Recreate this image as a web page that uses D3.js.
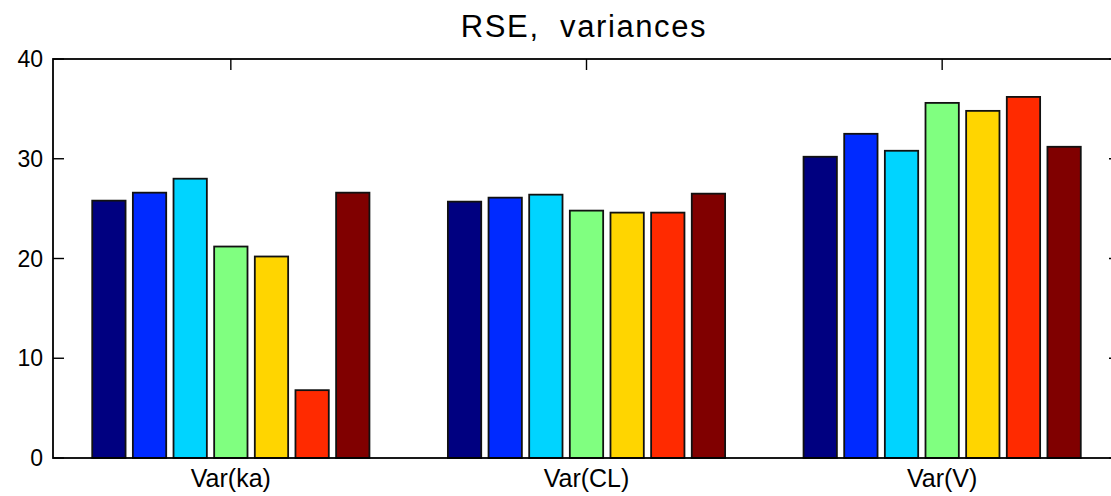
<!DOCTYPE html>
<html>
<head>
<meta charset="utf-8">
<script src="https://cdn.jsdelivr.net/npm/d3@7"></script>
<style>
  html, body { margin: 0; padding: 0; background: #fff; }
  svg { display: block; }
  text { font-family: "Liberation Sans", Arial, sans-serif; fill: #000; }
</style>
</head>
<body>
<svg id="chart" width="1111" height="496"></svg>
<script>
const categories = ["Var(ka)", "Var(CL)", "Var(V)"];
const series1 = [25.8, 25.7, 30.2];
const series2 = [26.6, 26.1, 32.5];
const series3 = [28.0, 26.4, 30.8];
const series4 = [21.2, 24.8, 35.6];
const series5 = [20.2, 24.6, 34.8];
const series6 = [6.8, 24.6, 36.2];
const series7 = [26.6, 26.5, 31.2];
const seriesList = [series1, series2, series3, series4, series5, series6, series7];
const yTicks = [0, 10, 20, 30, 40];
const title = "RSE,  variances";

// jet colormap sampled evenly across the series
function jet(t) {
  const c = v => Math.max(0, Math.min(1, v));
  const r = c(1.5 - Math.abs(4 * t - 3));
  const g = c(1.5 - Math.abs(4 * t - 2));
  const b = c(1.5 - Math.abs(4 * t - 1));
  return d3.rgb(r * 255, g * 255, b * 255).formatHex();
}
const nS = seriesList.length;
const colors = seriesList.map((_, i) => jet(i / (nS - 1)));

const svg = d3.select("#chart");
const mLeft = 53, mRight = 1120, mTop = 59, mBottom = 458;

const x = d3.scaleLinear().domain([0.5, categories.length + 0.5]).range([mLeft, mRight]);
const y = d3.scaleLinear().domain([0, 40]).range([mBottom, mTop]);

const groupWidth = 0.8;
const pitch = groupWidth / nS;
const barW = pitch * 0.82;

const g = svg.append("g");

// Ticks (inward), drawn under bars
const tickLen = 11;
g.selectAll(".ytl").data(yTicks).enter().append("line")
  .attr("x1", mLeft).attr("x2", mLeft + tickLen)
  .attr("y1", d => y(d)).attr("y2", d => y(d))
  .attr("stroke", "#000").attr("stroke-width", 1.4);
g.selectAll(".ytr").data(yTicks).enter().append("line")
  .attr("x1", mRight).attr("x2", mRight - tickLen)
  .attr("y1", d => y(d)).attr("y2", d => y(d))
  .attr("stroke", "#000").attr("stroke-width", 1.4);
g.selectAll(".xtt").data(categories).enter().append("line")
  .attr("x1", (d, i) => x(i + 1)).attr("x2", (d, i) => x(i + 1))
  .attr("y1", mTop).attr("y2", mTop + tickLen)
  .attr("stroke", "#000").attr("stroke-width", 1.4);
g.selectAll(".xtb").data(categories).enter().append("line")
  .attr("x1", (d, i) => x(i + 1)).attr("x2", (d, i) => x(i + 1))
  .attr("y1", mBottom).attr("y2", mBottom - tickLen)
  .attr("stroke", "#000").attr("stroke-width", 1.4);

// Bars
seriesList.forEach((vals, s) => {
  const off = (s - (nS - 1) / 2) * pitch;
  g.selectAll(".bar" + s).data(vals).enter().append("rect")
    .attr("x", (d, i) => x(i + 1 + off - barW / 2))
    .attr("width", x(barW) - x(0))
    .attr("y", d => y(d))
    .attr("height", d => y(0) - y(d))
    .attr("fill", colors[s])
    .attr("stroke", "#111")
    .attr("stroke-width", 1.8);
});

// Axes box
g.append("rect")
  .attr("x", mLeft).attr("y", mTop)
  .attr("width", mRight - mLeft).attr("height", mBottom - mTop)
  .attr("fill", "none").attr("stroke", "#000").attr("stroke-width", 1.8);

// Y tick labels
g.selectAll(".ylab").data(yTicks).enter().append("text")
  .attr("x", mLeft - 10).attr("y", d => y(d) + 8)
  .attr("text-anchor", "end")
  .style("font-size", "23px")
  .text(d => d);

// X labels
g.selectAll(".xlab").data(categories).enter().append("text")
  .attr("x", (d, i) => x(i + 1)).attr("y", mBottom + 29)
  .attr("text-anchor", "middle")
  .style("font-size", "25px")
  .text(d => d);

// Title
svg.append("text")
  .attr("x", 584).attr("y", 37)
  .attr("text-anchor", "middle")
  .style("font-size", "31px")
  .style("letter-spacing", "1.6px")
  .style("white-space", "pre")
  .attr("xml:space", "preserve")
  .text(title);
</script>
</body>
</html>
